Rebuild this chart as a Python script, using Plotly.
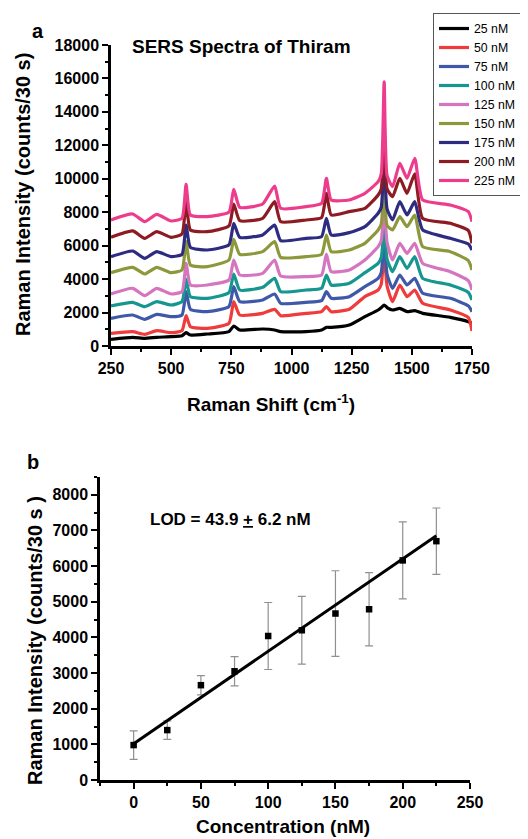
import plotly.graph_objects as go

# ---------------- Panel a : SERS spectra ----------------
raman_shift = [250, 340, 390, 440, 500, 545, 562, 580, 650, 740, 760, 785, 880, 930, 955,
               1060, 1125, 1145, 1165, 1240, 1305, 1360, 1373, 1385, 1397, 1420, 1450, 1480,
               1512, 1545, 1660, 1735, 1750]

s25 = [400, 518, 458, 518, 558, 618, 797, 658, 718, 857, 1196, 957, 1017, 957, 857,
       857, 957, 1116, 1116, 1256, 1754, 2153, 2300, 2452, 2300, 2153, 2253, 2053,
       2113, 1954, 1714, 1455, 1356]
s50 = [758, 857, 698, 917, 797, 917, 1814, 1156, 1057, 1356, 2651, 1854, 1954, 2193, 1814,
       1954, 2053, 2352, 2053, 2193, 2951, 3349, 3700, 5600, 3600, 2651, 3648, 2951,
       3349, 2552, 2153, 1700, 900]
s75 = [1655, 1854, 1595, 1894, 1754, 1854, 3250, 2193, 2053, 2352, 3549, 2651, 2751, 3110, 2552,
       2612, 2711, 3250, 2851, 2951, 3549, 4047, 4400, 6400, 4300, 3449, 4246, 3648,
       4047, 3150, 2851, 2400, 2053]
s100 = [2392, 2610, 2352, 2651, 2452, 2651, 3987, 2951, 2851, 3190, 4306, 3349, 3509, 4047, 3250,
        3349, 3449, 4246, 3648, 3748, 4386, 4944, 5300, 7000, 5200, 4446, 5343, 4645,
        5343, 4047, 3648, 3200, 2751]
s125 = [3110, 3450, 3010, 3450, 3110, 3250, 4944, 3648, 3648, 3947, 5144, 4246, 4346, 5144, 4187,
        4147, 4246, 5502, 4446, 4545, 5144, 5941, 6300, 8300, 6200, 5144, 6140, 5542,
        6140, 4944, 4446, 3900, 3349]
s150 = [4386, 4705, 4306, 4705, 4386, 4545, 6240, 4844, 4745, 5144, 6380, 5482, 5642, 6240, 5303,
        5343, 5482, 6639, 5642, 5742, 6140, 6938, 7300, 9500, 7200, 6938, 7735, 7137,
        7835, 5941, 5642, 5100, 4545]
s175 = [5343, 5680, 5243, 5642, 5343, 5482, 7237, 5900, 5742, 6041, 7337, 6499, 6639, 7237, 6300,
        6439, 6539, 7636, 6639, 6778, 7137, 7935, 8300, 11200, 8200, 7536, 8632, 7835,
        8632, 6938, 6439, 6100, 5742]
s200 = [6500, 6880, 6440, 6838, 6500, 6699, 8700, 6938, 6838, 7177, 8493, 7496, 7636, 8632, 7436,
        7536, 7675, 9131, 7835, 8034, 8234, 9031, 9400, 12300, 9400, 8931, 10028, 9131,
        10300, 7636, 7337, 6900, 6140]
s225 = [7536, 7895, 7436, 7875, 7476, 7636, 9670, 7835, 7735, 8000, 9370, 8294, 8493, 9569, 8234,
        8333, 8533, 10028, 8732, 8732, 9131, 9829, 10300, 15800, 10200, 9530, 10925, 10028,
        11224, 8732, 8433, 8034, 7436]

series_labels = ["25 nM", "50 nM", "75 nM", "100 nM", "125 nM", "150 nM", "175 nM", "200 nM", "225 nM"]
series_values = [s25, s50, s75, s100, s125, s150, s175, s200, s225]
series_colors = ["#000000", "#EF3B3B", "#3F58A8", "#15968F", "#D575BF",
                 "#8C983A", "#2D2C80", "#8C1B22", "#EC3C8B"]

# ---------------- Panel b : calibration ----------------
concentration = [0, 25, 50, 75, 100, 125, 150, 175, 200, 225]
intensity = [980, 1400, 2660, 3050, 4040, 4200, 4670, 4790, 6160, 6700]
intensity_err = [400, 260, 270, 410, 940, 950, 1200, 1030, 1080, 930]
fit_x = [0, 225]
fit_y = [1020, 6850]

FONT = "Liberation Sans"
fig = go.Figure()

for lab, vals, col in zip(series_labels, series_values, series_colors):
    fig.add_trace(go.Scatter(x=raman_shift, y=vals, mode="lines", name=lab,
                             line=dict(color=col, width=3.2, shape="spline", smoothing=0.5),
                             xaxis="x", yaxis="y"))

fig.add_trace(go.Scatter(x=concentration, y=intensity, mode="markers", showlegend=False,
                         marker=dict(symbol="square", size=6.5, color="black"),
                         error_y=dict(type="data", array=intensity_err, visible=True,
                                      color="#909090", thickness=1.2, width=4),
                         xaxis="x2", yaxis="y2"))
fig.add_trace(go.Scatter(x=fit_x, y=fit_y, mode="lines", showlegend=False,
                         line=dict(color="black", width=3), xaxis="x2", yaxis="y2"))

W, H = 528, 839
OFF = 8  # page body offset of the plot div
def px(x): return (x - OFF) / W
def py(y): return 1 - (y - OFF) / H

tickfont = dict(family=FONT, size=16, color="black", weight="bold")
common = dict(showline=True, linecolor="black", linewidth=2.5, ticks="outside",
              tickwidth=2, ticklen=6, tickcolor="black", showgrid=False, zeroline=False,
              tickfont=tickfont, automargin=False, tickformat="d")
minor = dict(ticks="outside", ticklen=3, tickwidth=2, tickcolor="black", showgrid=False)

fig.update_layout(
    width=W, height=H, margin=dict(l=0, r=0, t=0, b=0, autoexpand=False),
    paper_bgcolor="white", plot_bgcolor="white",
    xaxis=dict(domain=[px(111), px(472)], range=[250, 1750], tickvals=[250, 500, 750, 1000, 1250, 1500, 1750],
               minor=dict(dtick=125, **minor), anchor="y", **common),
    yaxis=dict(domain=[py(346), py(45)], range=[0, 18000], dtick=2000,
               minor=dict(dtick=1000, **minor), anchor="x", **common),
    xaxis2=dict(domain=[px(100), px(470)], range=[-25, 250], dtick=50,
                minor=dict(dtick=25, **minor), anchor="y2", **common),
    yaxis2=dict(domain=[py(780), py(477)], range=[0, 8500], tickvals=list(range(0, 8001, 1000)),
                minor=dict(tickvals=list(range(500, 8501, 1000)), **minor), anchor="x2", **common),
    showlegend=True,
    legend=dict(x=px(433), y=py(13), xanchor="left", yanchor="top",
                bordercolor="#555555", borderwidth=1, bgcolor="white",
                font=dict(family=FONT, size=12.3, color="black"),
                tracegroupgap=0, itemwidth=30),
)

ann = [
    dict(text="<b>a</b>", x=px(38), y=py(31), font=dict(size=20)),
    dict(text="<b>b</b>", x=px(33), y=py(462), font=dict(size=20)),
    dict(text="<b>SERS Spectra of Thiram</b>", x=px(130), y=py(47), xanchor="left", font=dict(size=19)),
    dict(text="<b>Raman Intensity (counts/30 s)</b>", x=px(23), y=py(195), textangle=-90, font=dict(size=20)),
    dict(text="<b>Raman Shift (cm<sup>-1</sup>)</b>", x=px(271), y=py(403), font=dict(size=19)),
    dict(text="<b>Raman Intensity (counts/30 s )</b>", x=px(35), y=py(641), textangle=-90, font=dict(size=20)),
    dict(text="<b>Concentration (nM)</b>", x=px(283), y=py(826), font=dict(size=19)),
    dict(text="<b>LOD = 43.9 <u>+</u> 6.2 nM</b>", x=px(148), y=py(519), xanchor="left", font=dict(size=17)),
]
for a in ann:
    a.setdefault("xanchor", "center")
    a["font"] = dict(family=FONT, color="black", **a["font"])
    fig.add_annotation(xref="paper", yref="paper", showarrow=False, yanchor="middle", **a)

fig.write_html("out.html")
